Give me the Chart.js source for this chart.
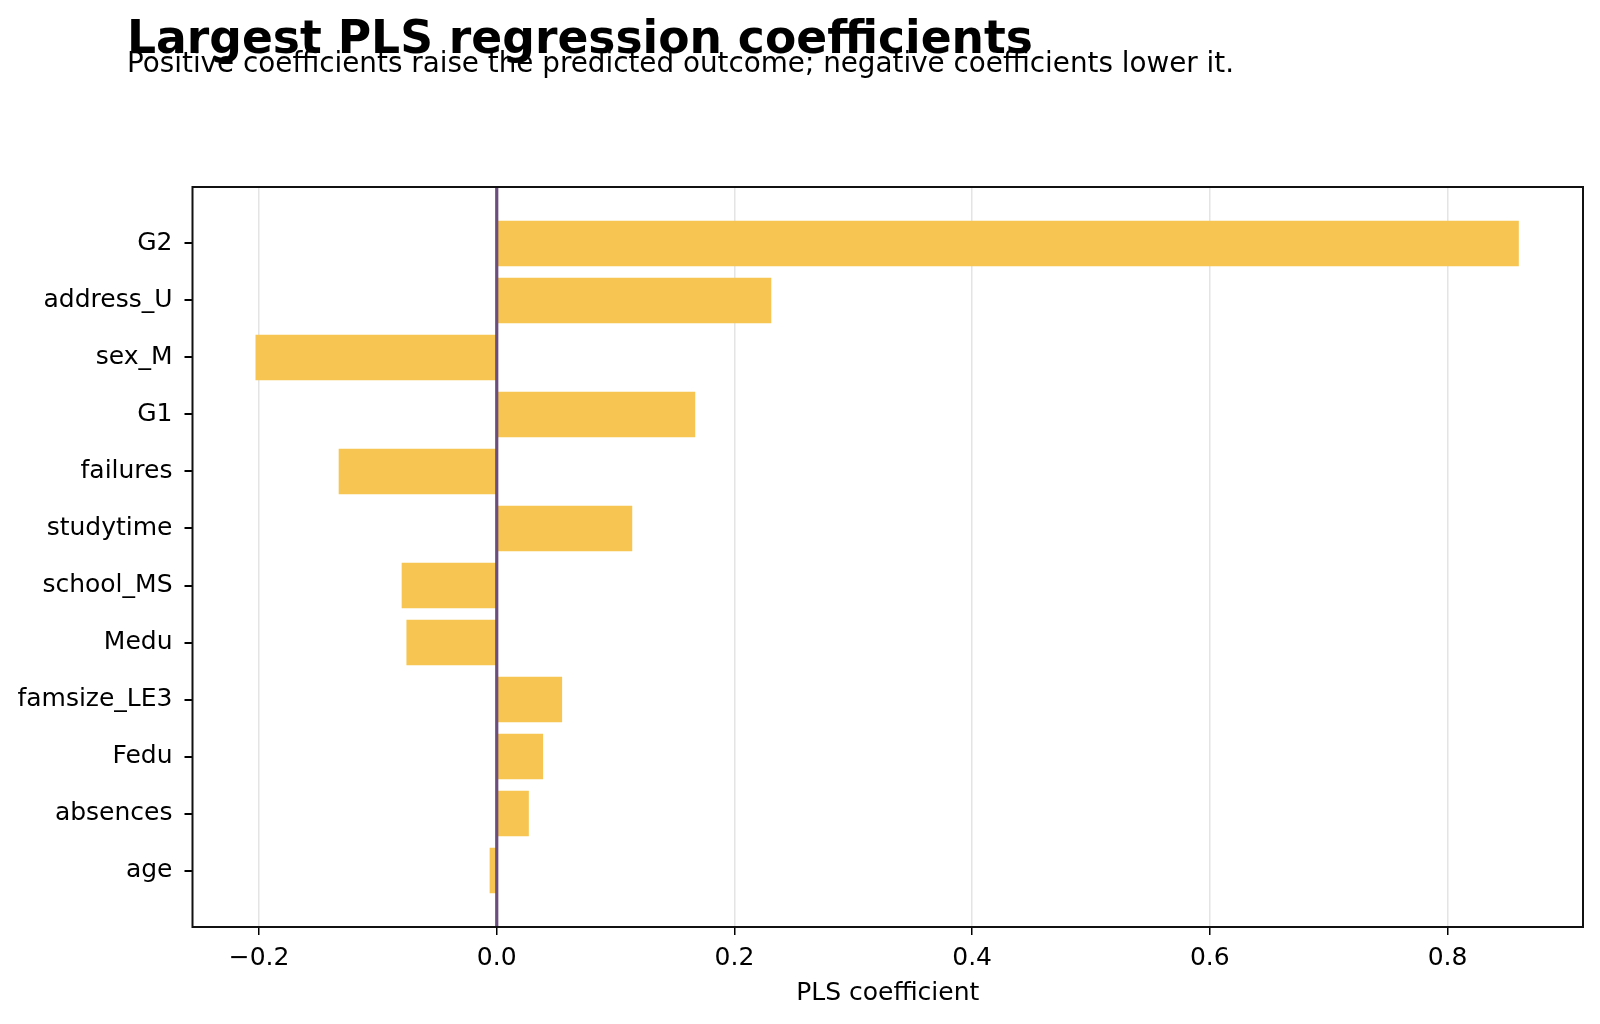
<!DOCTYPE html>
<html>
<head>
<meta charset="utf-8">
<script src="https://cdn.jsdelivr.net/npm/chart.js@4.4.1/dist/chart.umd.min.js"></script>
<style>
  body { margin: 0; background: #fff; }
  #wrap { width: 1600px; height: 1024px; }
</style>
</head>
<body>
<div id="wrap"><canvas id="chart" width="1600" height="1024"></canvas></div>
<script>
'use strict';

// features sorted by absolute PLS coefficient
const featureNames = ['G2', 'address_U', 'sex_M', 'G1', 'failures', 'studytime',
  'school_MS', 'Medu', 'famsize_LE3', 'Fedu', 'absences', 'age'];
const coefValues = [0.860, 0.231, -0.203, 0.167, -0.133, 0.114,
  -0.080, -0.076, 0.055, 0.039, 0.027, -0.006];
const xTickValues = [-0.2, 0.0, 0.2, 0.4, 0.6, 0.8];

const titleText = 'Largest PLS regression coefficients';
const subtitleText = 'Positive coefficients raise the predicted outcome; negative coefficients lower it.';

const FONT = '"DejaVu Sans", Verdana, sans-serif';

// headings, zero line and the box round the plot
const extrasPlugin = {
  id: 'extras',
  afterDatasetsDraw(chart) {
    const ctx = chart.ctx;
    const area = chart.chartArea;
    const x0 = chart.scales.x.getPixelForValue(0);
    ctx.save();
    ctx.strokeStyle = '#6b4e7e';
    ctx.lineWidth = 3.2;
    ctx.beginPath();
    ctx.moveTo(x0, area.top);
    ctx.lineTo(x0, area.bottom);
    ctx.stroke();
    ctx.restore();
  },
  afterDraw(chart) {
    const ctx = chart.ctx;
    const area = chart.chartArea;
    ctx.save();
    ctx.strokeStyle = '#111';
    ctx.lineWidth = 2;
    ctx.strokeRect(area.left, area.top, area.right - area.left, area.bottom - area.top);

    ctx.fillStyle = '#000';
    ctx.textAlign = 'left';
    ctx.textBaseline = 'alphabetic';
    ctx.font = 'bold 45.6px ' + FONT;
    ctx.fillText(titleText, 127, 53);
    ctx.font = '27.8px ' + FONT;
    ctx.fillText(subtitleText, 127, 72);
    ctx.restore();
  }
};

const barData = coefValues.map((v, i) => ({ x: v, y: i }));

new Chart(document.getElementById('chart'), {
  type: 'bar',
  data: {
    datasets: [{
      label: 'PLS coefficient',
      data: barData,
      backgroundColor: '#f7c652',
      borderWidth: 0,
      barPercentage: 0.8,
      categoryPercentage: 1.0
    }]
  },
  options: {
    indexAxis: 'y',
    responsive: false,
    animation: false,
    devicePixelRatio: 1,
    layout: { padding: { top: 187, left: 0, right: 17, bottom: 0 } },
    plugins: {
      legend: { display: false },
      tooltip: { enabled: false }
    },
    scales: {
      x: {
        type: 'linear',
        min: -0.256,
        max: 0.914,
        afterFit(scale) { scale.height = 97; },
        afterBuildTicks(scale) {
          scale.ticks = xTickValues.map(v => ({ value: v }));
        },
        ticks: {
          color: '#000',
          padding: 8,
          font: { family: FONT, size: 25, lineHeight: 1.2 },
          callback: v => v.toFixed(1).replace('-', '\u2212')
        },
        grid: {
          color: '#e4e4e4',
          lineWidth: 1.5,
          tickColor: '#000',
          tickLength: 8
        },
        border: { display: false },
        title: {
          display: true,
          text: 'PLS coefficient',
          color: '#000',
          font: { family: FONT, size: 25, lineHeight: 1.2 },
          padding: { top: 0, bottom: 16 }
        }
      },
      y: {
        type: 'linear',
        reverse: true,
        offset: false,
        min: -0.99,
        max: featureNames.length - 1 + 0.99,
        afterFit(scale) { scale.width = 192.5; },
        afterBuildTicks(scale) {
          scale.ticks = featureNames.map((n, i) => ({ value: i }));
        },
        ticks: {
          color: '#000',
          padding: 12,
          autoSkip: false,
          font: { family: FONT, size: 25 },
          callback: v => featureNames[v]
        },
        grid: {
          offset: false,
          drawOnChartArea: false,
          color: '#000',
          tickColor: '#000',
          tickLength: 8,
          lineWidth: 2
        },
        border: { display: false }
      }
    }
  },
  plugins: [extrasPlugin]
});
</script>
</body>
</html>
